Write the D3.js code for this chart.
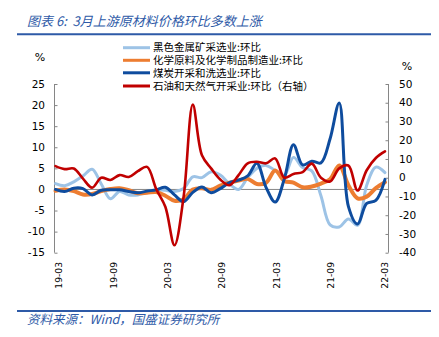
<!DOCTYPE html>
<html><head><meta charset="utf-8">
<script src="https://cdn.jsdelivr.net/npm/d3@7"></script>
<style>
html,body{margin:0;padding:0;background:#fff;}
svg{display:block;}
</style></head>
<body>
<svg id="chart" width="439" height="337"></svg>
<script>
// ---- data ----
const months = ["19-03","19-04","19-05","19-06","19-07","19-08","19-09","19-10","19-11","19-12",
  "20-01","20-02","20-03","20-04","20-05","20-06","20-07","20-08","20-09","20-10","20-11","20-12",
  "21-01","21-02","21-03","21-04","21-05","21-06","21-07","21-08","21-09","21-10","21-11","21-12",
  "22-01","22-02","22-03"];
const tickLabels = ["19-03","19-09","20-03","20-09","21-03","21-09","22-03"];
const ferrousMining = [1.4,0.9,1.8,3.2,4.8,1.3,-2.2,-0.5,-1.3,-1.3,-0.6,-0.2,-0.2,-0.5,0.2,3.0,2.8,4.2,3.4,
  1.3,0.0,2.8,5.0,5.7,4.5,3.4,7.6,5.2,4.4,-1.5,-8.4,-8.9,-7.0,-8.5,1.0,5.3,4.0];
const chemicals = [-0.3,0.0,-0.4,-1.2,-1.1,-0.4,0.1,0.3,-0.2,-0.9,-0.8,-0.6,-1.5,-2.7,-2.3,0.0,0.3,-0.1,0.9,
  1.6,2.1,2.5,1.3,1.6,4.5,2.0,1.6,0.5,0.7,1.4,2.4,5.7,1.0,-2.1,-1.7,0.3,1.7];
const coalMining = [0.0,-0.5,0.3,0.2,-1.3,-0.2,-0.1,-0.1,-0.5,-0.8,-0.4,-0.1,0.5,-1.3,-2.9,-0.7,0.6,-0.8,0.2,
  1.6,2.2,3.2,6.2,0.5,-3.0,2.5,10.6,5.8,6.7,6.3,12.0,20.5,-4.0,-8.2,-3.3,-2.6,2.4];
const oilGas = [6.2,4.6,4.9,-0.5,-5.3,0.0,-1.2,1.4,0.4,3.5,5.8,-6.0,-15.5,-36.0,-10.0,39.0,12.0,5.0,-1.0,
  -4.0,1.4,7.7,8.5,7.7,10.3,0.0,2.0,3.0,7.5,0.0,-2.0,5.0,6.5,-6.8,4.0,10.5,14.0];
const leftTicks = [25,20,15,10,5,0,-5,-10,-15];
const rightTicks = [50,40,30,20,10,0,-10,-20,-30,-40];
const seriesNames = ["黑色金属矿采选业:环比","化学原料及化学制品制造业:环比","煤炭开采和洗选业:环比","石油和天然气开采业:环比（右轴）"];
const seriesColors = ["#9DC3E6","#ED7D31","#0E4C9E","#C00000"];
const titleText = "图表 6:\u00a0\u00a03月上游原材料价格环比多数上涨";
const sourceText = "资料来源：Wind，国盛证券研究所";

// ---- layout ----
const svg = d3.select("#chart");
const axisFont = "'DejaVu Sans', Verdana, sans-serif";
const cjkFont = "'Noto Sans CJK SC', sans-serif";
const blue = "#2E5AA7";

const x = d3.scaleLinear().domain([0, months.length - 1]).range([55.5, 385]);
const yL = d3.scaleLinear().domain([-15, 25]).range([252.7, 84]);
const yR = d3.scaleLinear().domain([-40, 50]).range([252.7, 84]);

// title
svg.append("text").attr("x", 27).attr("y", 26).attr("fill", blue)
  .attr("font-family", cjkFont).attr("font-size", 13).attr("font-style", "italic")
  .style("white-space", "pre")
  .text(titleText);
svg.append("line").attr("x1", 17).attr("x2", 431).attr("y1", 34.3).attr("y2", 34.3)
  .attr("stroke", blue).attr("stroke-width", 2);

// footer
svg.append("line").attr("x1", 17).attr("x2", 431).attr("y1", 311).attr("y2", 311)
  .attr("stroke", blue).attr("stroke-width", 2);
svg.append("text").attr("x", 27).attr("y", 323.5).attr("fill", blue)
  .attr("font-family", cjkFont).attr("font-size", 12.5).attr("font-style", "italic")
  .text(sourceText);

// unit labels
svg.append("text").attr("x", 40).attr("y", 61).attr("text-anchor","middle")
  .attr("font-family", axisFont).attr("font-size", 11).attr("fill","#000").text("%");
svg.append("text").attr("x", 407).attr("y", 70).attr("text-anchor","middle")
  .attr("font-family", axisFont).attr("font-size", 11).attr("fill","#000").text("%");

// left axis
const gL = svg.append("g").attr("transform", "translate(54.5,0)")
  .call(d3.axisRight(yL).tickValues(leftTicks).tickSize(3).tickFormat(""));
gL.select(".domain").attr("stroke", "#868686").attr("d", `M0,${yL(25)}V${yL(-15)}`);
gL.selectAll(".tick line").attr("stroke", "#868686");
svg.append("g").selectAll("text").data(leftTicks).join("text")
  .attr("x", 45).attr("y", d => yL(d)).attr("dy", "0.35em").attr("text-anchor", "end")
  .attr("font-family", axisFont).attr("font-size", 10.5).attr("fill", "#000").text(d => d);

// right axis
const gR = svg.append("g").attr("transform", "translate(388.5,0)")
  .call(d3.axisLeft(yR).tickValues(rightTicks).tickSize(3).tickFormat(""));
gR.select(".domain").attr("stroke", "#868686").attr("d", `M0,${yR(50)}V${yR(-40)}`);
gR.selectAll(".tick line").attr("stroke", "#868686");
svg.append("g").selectAll("text").data(rightTicks).join("text")
  .attr("x", 399).attr("y", d => yR(d)).attr("dy", "0.35em").attr("text-anchor", "start")
  .attr("font-family", axisFont).attr("font-size", 10.5).attr("fill", "#000").text(d => d);

// zero (category) axis line
svg.append("line").attr("x1", 54.5).attr("x2", 388.5).attr("y1", yL(0)).attr("y2", yL(0))
  .attr("stroke", "#868686").attr("stroke-width", 1);

// x labels
const labelShift = d3.scaleLinear().domain([0, months.length - 1]).range([3.5, 0]);
svg.append("g").selectAll("text").data(tickLabels).join("text")
  .attr("transform", d => { const i = months.indexOf(d); return `translate(${x(i) + labelShift(i)},262) rotate(-90)`; })
  .attr("text-anchor", "end").attr("dy", "0.35em")
  .attr("font-family", axisFont).attr("font-size", 9.2).attr("fill", "#000").text(d => d);

// lines
const series = [
  {vals: ferrousMining, y: yL, w: 3},
  {vals: chemicals, y: yL, w: 4},
  {vals: coalMining, y: yL, w: 3},
  {vals: oilGas, y: yR, w: 2.6}
];
series.forEach((s, k) => {
  const line = d3.line().x((d, i) => x(i)).y(d => s.y(d)).curve(d3.curveCatmullRom.alpha(0.5));
  svg.append("path").datum(s.vals).attr("d", line).attr("fill", "none")
    .attr("stroke", seriesColors[k]).attr("stroke-width", s.w)
    .attr("stroke-linejoin", "round").attr("stroke-linecap", "round");
});

// legend
const legY = [47.7, 60.3, 72.8, 86];
const leg = svg.append("g");
seriesNames.forEach((name, k) => {
  leg.append("line").attr("x1", 123).attr("x2", 150).attr("y1", legY[k]).attr("y2", legY[k])
    .attr("stroke", seriesColors[k]).attr("stroke-width", 3);
  leg.append("text").attr("x", 153).attr("y", legY[k]).attr("dy", "0.36em")
    .attr("font-family", cjkFont).attr("font-size", 10.5).attr("fill", "#000").text(name);
});
</script>
</body></html>
